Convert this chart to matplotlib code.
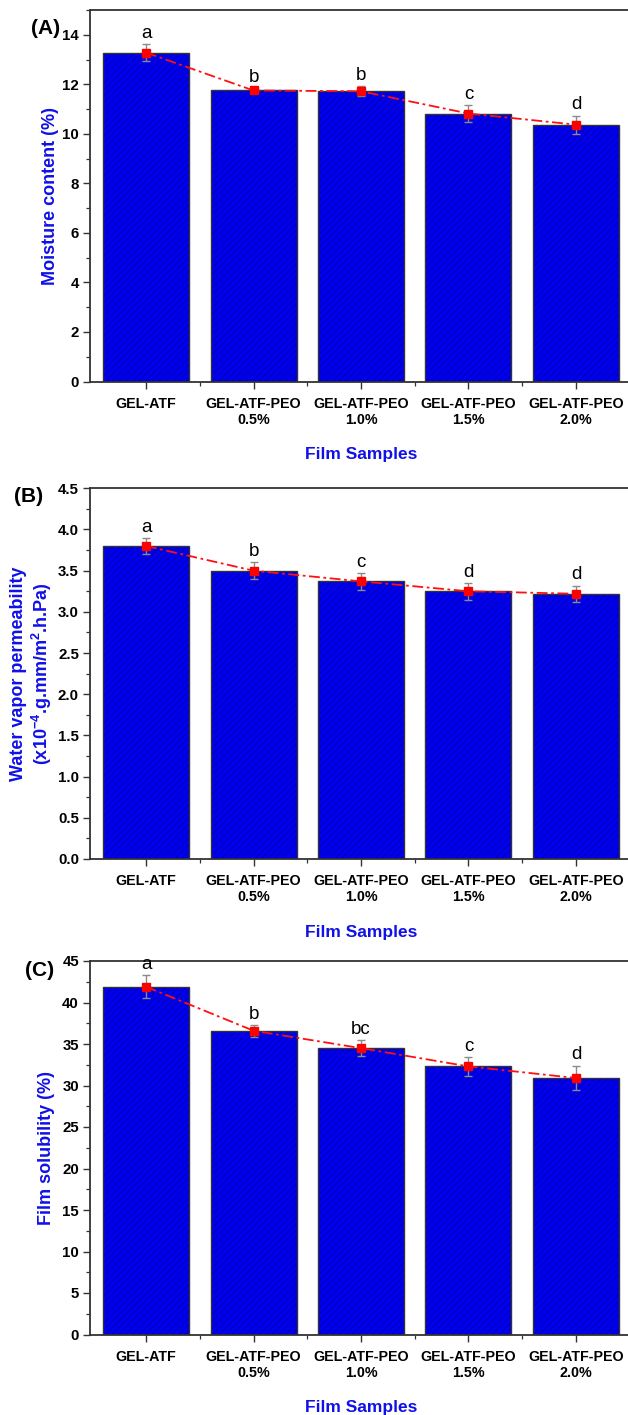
import matplotlib
matplotlib.use("Agg")
import matplotlib.pyplot as plt
from matplotlib.ticker import MultipleLocator, FixedLocator

plt.rcParams['font.family'] = ['Liberation Sans', 'DejaVu Sans']
plt.rcParams['mathtext.fontset'] = 'custom'
plt.rcParams['mathtext.bf'] = 'Liberation Sans:bold'
plt.rcParams['mathtext.rm'] = 'Liberation Sans:bold'
plt.rcParams['mathtext.default'] = 'bf'
plt.rcParams['hatch.linewidth'] = 0.5

categories = ["GEL-ATF", "GEL-ATF-PEO\n0.5%", "GEL-ATF-PEO\n1.0%",
              "GEL-ATF-PEO\n1.5%", "GEL-ATF-PEO\n2.0%"]

moisture = [13.28, 11.75, 11.72, 10.82, 10.37]
moisture_err = [0.35, 0.1, 0.2, 0.35, 0.37]
moisture_letters = ["a", "b", "b", "c", "d"]

wvp = [3.80, 3.50, 3.37, 3.25, 3.22]
wvp_err = [0.1, 0.1, 0.1, 0.1, 0.1]
wvp_letters = ["a", "b", "c", "d", "d"]

solubility = [41.9, 36.6, 34.5, 32.3, 30.9]
solubility_err = [1.4, 0.7, 1.0, 1.1, 1.5]
solubility_letters = ["a", "b", "bc", "c", "d"]

W, H = 628, 1415
fig = plt.figure(figsize=(W / 100, H / 100), dpi=100)

def px_axes(left, right, top, bottom):
    return [left / W, 1 - bottom / H, (right - left) / W, (bottom - top) / H]

panels = [
    dict(rect=px_axes(90, 632, 10, 381.5), vals=moisture, err=moisture_err,
         letters=moisture_letters, ylim=(0, 15), major=2, minor=1,
         ylabel="Moisture content (%)", ylab_x=51, tag="(A)", tag_xy=(46, 29),
         fmt="{:.0f}"),
    dict(rect=px_axes(90, 632, 488.3, 859), vals=wvp, err=wvp_err,
         letters=wvp_letters, ylim=(0, 4.5), major=0.5, minor=0.25,
         ylabel="Water vapor permeability\n(x10$^{-4}$.g.mm/m$^{2}$.h.Pa)",
         ylab_x=32, tag="(B)", tag_xy=(29, 496), fmt="{:.1f}"),
    dict(rect=px_axes(90, 632, 961, 1334.5), vals=solubility, err=solubility_err,
         letters=solubility_letters, ylim=(0, 45), major=5, minor=2.5,
         ylabel="Film solubility (%)", ylab_x=47, tag="(C)", tag_xy=(40, 971),
         fmt="{:.0f}"),
]

x = list(range(1, len(categories) + 1))
blue_lab = '#1010E8'

for p in panels:
    ax = fig.add_axes(p['rect'])
    ax.bar(x, p['vals'], width=0.8, color='#0000EE', edgecolor='#00009A',
           hatch='/////', linewidth=0, zorder=2)
    ax.bar(x, p['vals'], width=0.8, fill=False, edgecolor='#333333',
           linewidth=1.0, zorder=3)
    ax.errorbar(x, p['vals'], yerr=p['err'], fmt='none', ecolor='#8a8a8a',
                elinewidth=1.0, capsize=3, capthick=1.0, zorder=4)
    ax.plot(x, p['vals'], color='#FF1010', linestyle=(0, (6, 2, 1.5, 2)),
            linewidth=1.3, marker='s', markersize=5.5, markerfacecolor='#FF0000',
            markeredgecolor='#FF0000', zorder=5)
    for xi, v, e, lt in zip(x, p['vals'], p['err'], p['letters']):
        ax.annotate(lt, (xi, v + e), xytext=(0, 1.5), textcoords='offset points',
                    ha='center', va='bottom', fontsize=13.5, color='black', zorder=6)
    ax.set_xlim(0.479, 5.521)
    ax.set_ylim(*p['ylim'])
    ax.set_xticks(x)
    ax.set_xticklabels(categories, fontsize=10.3, fontweight='bold')
    ax.xaxis.set_minor_locator(FixedLocator([1.5, 2.5, 3.5, 4.5]))
    ax.yaxis.set_major_locator(MultipleLocator(p['major']))
    ax.yaxis.set_minor_locator(MultipleLocator(p['minor']))
    ax.set_yticks(ax.get_yticks())
    ax.set_yticklabels([p['fmt'].format(t) for t in ax.get_yticks()],
                       fontsize=10.8, fontweight='bold')
    ax.set_ylim(*p['ylim'])
    ax.tick_params(axis='both', which='major', direction='out', length=5,
                   width=1.0, color='#333333', pad=3)
    ax.tick_params(axis='x', which='major', pad=6)
    ax.tick_params(axis='both', which='minor', direction='out', length=3,
                   width=0.9, color='#333333')
    for s in ax.spines.values():
        s.set_linewidth(1.3)
        s.set_color('#333333')
    ax.set_xlabel("Film Samples", fontsize=12.5, fontweight='bold', color=blue_lab)
    height_px = H * p['rect'][3]
    ax.xaxis.set_label_coords(0.5, -(73) / height_px)
    ax.xaxis.label.set_va('center')
    ax.set_ylabel(p['ylabel'], fontsize=13, fontweight='bold', color=blue_lab,
                  linespacing=1.2)
    ax.yaxis.set_label_coords((p['ylab_x'] - 90) / 542, 0.5)
    ax.yaxis.label.set_va('center')
    fig.text(p['tag_xy'][0] / W, 1 - p['tag_xy'][1] / H, p['tag'],
             fontsize=15, fontweight='bold', ha='center', va='center')

fig.savefig("out.png", dpi=100)
